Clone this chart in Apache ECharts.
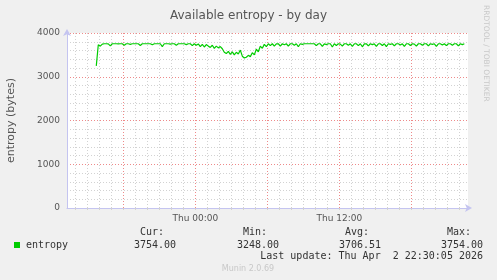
<!DOCTYPE html>
<html>
<head>
<meta charset="utf-8">
<script src="https://cdn.jsdelivr.net/npm/echarts@6/dist/echarts.min.js"></script>
<style>
html,body{margin:0;padding:0;background:#f0f0f0;}
#c{width:497px;height:280px;}
</style>
</head>
<body>
<div id="c"></div>
<script>
// hours relative to Thu 00:00 (Apr 2 2026)
var startHour = -8.25;       // first sample time
var stepHours = 1 / 6;       // 10 minute samples
var entropyValues = [
  3248, 3730, 3700, 3745, 3754, 3754, 3750, 3705, 3754, 3754,
  3754, 3750, 3754, 3754, 3720, 3754, 3754, 3740, 3754, 3754,
  3754, 3754, 3715, 3754, 3754, 3754, 3754, 3754, 3730, 3754,
  3754, 3754, 3754, 3690, 3754, 3754, 3754, 3745, 3754, 3754,
  3720, 3754, 3754, 3754, 3754, 3735, 3754, 3754, 3710, 3754,
  3720, 3750, 3690, 3740, 3680, 3735, 3700, 3670, 3720, 3650,
  3700, 3660, 3690, 3640, 3560, 3530, 3580, 3510, 3570, 3500,
  3560, 3520, 3610, 3470, 3430, 3445, 3490, 3460, 3550, 3500,
  3630, 3570, 3700, 3650, 3740, 3690,
  3754, 3710, 3754, 3700, 3750, 3754, 3700, 3754, 3730, 3754,
  3700, 3754, 3754, 3720, 3754, 3685, 3754, 3740, 3754, 3754,
  3754, 3754, 3754, 3754, 3710, 3754, 3754, 3695, 3754, 3735,
  3754, 3754, 3680, 3754, 3715, 3754, 3745, 3700, 3754, 3754,
  3720, 3754, 3695, 3754, 3754, 3710, 3754, 3685, 3750, 3754,
  3705, 3754, 3735, 3754, 3695, 3754, 3754, 3715, 3754, 3690,
  3754, 3740, 3754, 3705, 3754, 3754, 3725, 3754, 3695, 3754,
  3754, 3715, 3754, 3745, 3700, 3754, 3754, 3720, 3754, 3754,
  3705, 3754, 3740, 3754, 3695, 3754, 3754, 3725, 3754, 3710,
  3754, 3754, 3720, 3754, 3754, 3705, 3754, 3735, 3754
];
var xMin = -10.69, xMax = 22.72;
var hourGrid = [-10,-9,-8,-7,-6,-5,-4,-3,-2,-1,0,1,2,3,4,5,6,7,8,9,10,11,12,13,14,15,16,17,18,19,20,21,22];
var xLabelValues = [0, 12];
var xLabelTexts = {0: 'Thu 00:00', 12: 'Thu 12:00'};
var yTicks = [0, 1000, 2000, 3000, 4000];
var legendHeads = ['Cur:', 'Min:', 'Avg:', 'Max:'];
var legendVals = ['3754.00', '3248.00', '3706.51', '3754.00'];
var seriesName = 'entropy';
var lastUpdate = 'Last update: Thu Apr  2 22:30:05 2026';

var data = entropyValues.map(function (v, i) { return [startHour + i * stepHours, v]; });

var RED = '#ee8a8a', GREY = '#d2d2d2', AXIS = '#c4c4f0';
var mono = 'DejaVu Sans Mono', sans = 'DejaVu Sans';

var headX = [140, 243, 345, 447];
var valX = [134, 237, 339, 441];
var graphics = [
  {type:'text', left: 482, top: 5, rotation: -Math.PI/2, originX: 0, originY: 0,
   style:{text:'RRDTOOL / TOBI OETIKER', fill:'#c8c8c8', font:'7.5px ' + sans}},
  {type:'rect', shape:{x:14, y:242, width:6, height:6}, style:{fill:'#00cc00'}},
  {type:'text', x: 26, y: 245, style:{text: seriesName, fill:'#333', font:'10px ' + mono, textVerticalAlign:'middle'}},
  {type:'text', x: 483, y: 256, style:{text: lastUpdate, fill:'#333', font:'10px ' + mono, textAlign:'right', textVerticalAlign:'middle'}},
  {type:'text', x: 248, y: 269, style:{text:'Munin 2.0.69', fill:'#c8c8c8', font:'8px ' + sans, textAlign:'center', textVerticalAlign:'middle'}}
];
legendHeads.forEach(function (h, i) {
  graphics.push({type:'text', x: headX[i], y: 232, style:{text: h, fill:'#333', font:'10px ' + mono, textVerticalAlign:'middle'}});
  graphics.push({type:'text', x: valX[i], y: 245, style:{text: legendVals[i], fill:'#333', font:'10px ' + mono, textVerticalAlign:'middle'}});
});

var chart = echarts.init(document.getElementById('c'), null, {renderer:'canvas'});
chart.setOption({
  backgroundColor: '#f0f0f0',
  animation: false,
  title: {text:'Available entropy - by day', left:'center', top: 5,
    textStyle:{fontFamily: sans, fontSize: 12, fontWeight:'normal', color:'#555'}},
  grid: {left: 67, right: 29, top: 33, bottom: 72, backgroundColor:'#ffffff', show: true, borderWidth: 0,
    containLabel: false, outerBoundsMode: 'none'},
  xAxis: {
    type:'value', min: xMin, max: xMax,
    axisLine:{show:true, onZero:false, lineStyle:{color: AXIS, width:1}, symbol:['none','arrow'], symbolSize:[6,7], symbolOffset:[0,4]},
    axisTick:{show:true, customValues: hourGrid, length: 2, lineStyle:{color: GREY}},
    axisLabel:{customValues: xLabelValues, formatter: function (v) { return xLabelTexts[v] || ''; },
      fontFamily: sans, fontSize: 9, color:'#555', margin: 6},
    splitLine:{show:true, lineStyle:{color:[GREY,GREY,GREY,GREY,RED,GREY], type:[1,2], width:1}}
  },
  yAxis: {
    type:'value', min: yTicks[0], max: yTicks[yTicks.length-1], interval: 1000,
    name:'entropy (bytes)', nameLocation:'middle', nameGap: 50,
    nameTextStyle:{fontFamily: sans, fontSize: 11, color:'#555'},
    axisLine:{show:true, onZero:false, lineStyle:{color: AXIS, width:1}, symbol:['none','arrow'], symbolSize:[6,7], symbolOffset:[0,4]},
    axisTick:{show:false},
    minorTick:{show:false, splitNumber:5},
    axisLabel:{fontFamily: sans, fontSize: 9, color:'#555', margin: 7, formatter: function (v) { return String(v); }},
    splitLine:{show:true, lineStyle:{color: RED, type:[1,2], width:1}},
    minorSplitLine:{show:true, lineStyle:{color: GREY, type:[1,2], width:1}}
  },
  graphic: graphics,
  series: [{
    type:'line', name: seriesName, data: data, showSymbol:false, symbol:'none', sampling: null,
    lineStyle:{color:'#00cc00', width:1.2}, z: 5
  }]
});
</script>
</body>
</html>
